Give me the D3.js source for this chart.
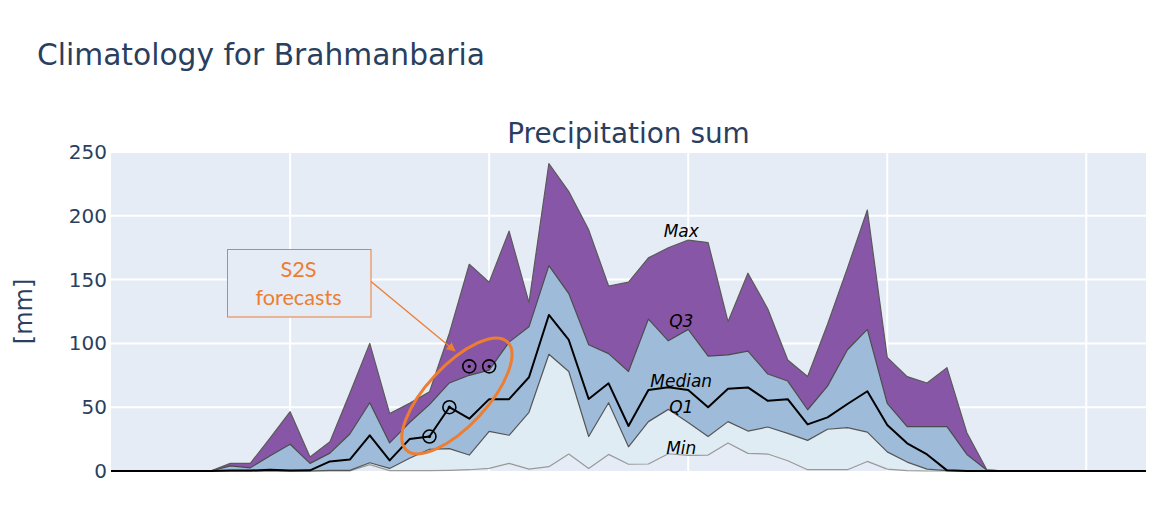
<!DOCTYPE html>
<html>
<head>
<meta charset="utf-8">
<script src="https://cdn.jsdelivr.net/npm/d3@7"></script>
<style>
  body { margin: 0; background: #fff; }
  svg { display: block; font-family: "DejaVu Sans", Verdana, sans-serif; }
</style>
</head>
<body>
<script>
// weekly climatology, weeks 1..53
var weeks = [1,2,3,4,5,6,7,8,9,10,11,12,13,14,15,16,17,18,19,20,21,22,23,24,25,26,27,
             28,29,30,31,32,33,34,35,36,37,38,39,40,41,42,43,44,45,46,47,48,49,50,51,52,53];

var maxVals = [0,0,0,0,0,0, 6,6,26,46.5,11,23,61,100,45,53, 62,108,162,148,188,132,241,219,189,145,
               148,167,175,181,179,117,155,127,87,74, 115,159,204.5,89,74,69,81,30,1, 0,0,0,0,0,0,0,0];
var q3Vals = [0,0,0,0,0,0, 4,2.5,12,21,6,14,29,53.5,22,38, 52,69,75,79,101,113,161,139,99,92,
              78,119,102,111,90,91,94,76,70.5,48, 66.5,95,111,53,34.7,34.7,34.7,13,0.8, 0,0,0,0,0,0,0,0];
var medianVals = [0,0,0,0,0,0, 0.3,0.3,1,0.3,0.5,7.5,9,28,8.3,25, 27,50,41,56.3,56.3,73.5,122.3,102.7,56.4,68.7,
                  35.3,63.5,65.6,63.5,50,64.5,65.5,55,56.3,36.5, 42,52.5,62.5,36,21.7,13,0.5,0,0, 0,0,0,0,0,0,0,0];
var q1Vals = [0,0,0,0,0,0, 0,0,0,0,0,0.5,0.5,6.5,2,10, 17,17.5,12.5,31,28,46,91.5,78,27,53.5,
              19,38.7,48.3,38,27,38.7,31.3,34.5,29.5,24, 32.7,34,30.5,15,7,1.5,0.3,0,0, 0,0,0,0,0,0,0,0];
var minVals = [0,0,0,0,0,0, 0,0,0,0,0,0,0,5,0.3,0.3, 0.3,0.5,1,2,6,1.5,3.4,13.3,2,13,
               5.3,5.5,13.5,12.3,12.5,22,13.8,13.3,8,1, 1,1,7.5,1.5,0.3,0,0,0,0, 0,0,0,0,0,0,0,0];

// S2S forecast markers
var forecastWeeks = [17, 18, 19, 20];
var forecastVals = [27, 50, 82, 82];

// in-chart series labels
var labelNames = ["Max", "Q3", "Median", "Q1", "Min"];
var labelVals = [188, 118, 71, 50, 18.5];
var labelWeek = 29.65;

var yTicks = [0, 50, 100, 150, 200, 250];
var xGrid = [10, 20, 30, 40, 50];

(function(){

var width = 1170, height = 510;
var padL = 111, padR = 1146, padT = 152, padB = 471;

var svg = d3.select("body").append("svg")
    .attr("width", width)
    .attr("height", height);

var x = d3.scaleLinear().domain([1, 53]).range([padL, padR]);
var y = d3.scaleLinear().domain([0, 250]).range([padB, padT]);

// plot background
svg.append("rect")
    .attr("x", padL).attr("y", padT)
    .attr("width", padR - padL).attr("height", padB - padT)
    .attr("fill", "#e5ecf6");

// grid
svg.append("g").selectAll("line")
    .data(yTicks.slice(1))
    .enter().append("line")
    .attr("x1", padL).attr("x2", padR)
    .attr("y1", function(d){ return y(d); })
    .attr("y2", function(d){ return y(d); })
    .attr("stroke", "#fff").attr("stroke-width", 2);

svg.append("g").selectAll("line")
    .data(xGrid)
    .enter().append("line")
    .attr("y1", padT).attr("y2", padB)
    .attr("x1", function(d){ return x(d); })
    .attr("x2", function(d){ return x(d); })
    .attr("stroke", "#fff").attr("stroke-width", 2);

// y axis ticks
var yAxis = d3.axisLeft(y).tickValues(yTicks).tickSize(0).tickPadding(4);
var ya = svg.append("g")
    .attr("transform", "translate(" + padL + ",0)")
    .call(yAxis);
ya.select(".domain").remove();
ya.selectAll("text")
    .attr("fill", "#2a3f5f")
    .style("font-size", "20px")
    .style("font-family", "DejaVu Sans, sans-serif");

// bands
var idx = d3.range(weeks.length);
function band(lo, hi, color){
    var area = d3.area()
        .x(function(i){ return x(weeks[i]); })
        .y0(function(i){ return y(lo[i]); })
        .y1(function(i){ return y(hi[i]); });
    svg.append("path")
        .datum(idx)
        .attr("d", area)
        .attr("fill", color);
}
band(q3Vals, maxVals, "#8856a7");
band(q1Vals, q3Vals, "#9ebcda");
band(minVals, q1Vals, "#e0ecf4");

function line(vals, color, w){
    var l = d3.line()
        .x(function(i){ return x(weeks[i]); })
        .y(function(i){ return y(vals[i]); });
    svg.append("path")
        .datum(idx)
        .attr("d", l)
        .attr("fill", "none")
        .attr("stroke", color)
        .attr("stroke-width", w)
        .attr("stroke-linejoin", "round");
}
line(minVals, "#999999", 1.2);
line(q1Vals, "#555555", 1.2);
line(q3Vals, "#4a4a4a", 1.2);
line(maxVals, "#5a5a5a", 1.2);
line(medianVals, "#000000", 2);

// series labels
svg.append("g").selectAll("text")
    .data(labelNames)
    .enter().append("text")
    .attr("x", x(labelWeek))
    .attr("y", function(d, i){ return y(labelVals[i]); })
    .attr("dy", "0.36em")
    .attr("text-anchor", "middle")
    .style("font-style", "italic")
    .style("font-size", "17px")
    .attr("fill", "#000")
    .text(function(d){ return d; });

// forecast markers (open circle with dot)
var fc = svg.append("g").selectAll("g")
    .data(forecastWeeks)
    .enter().append("g")
    .attr("transform", function(d, i){ return "translate(" + x(d) + "," + y(forecastVals[i]) + ")"; });
fc.append("circle")
    .attr("r", 6.5)
    .attr("fill", "none")
    .attr("stroke", "#000")
    .attr("stroke-width", 1.6);
fc.append("circle")
    .attr("r", 1.6)
    .attr("fill", "#000");

// callout: ellipse, box, arrow
var orange = "#ed7d31";
svg.append("ellipse")
    .attr("cx", 0).attr("cy", 0)
    .attr("rx", 74).attr("ry", 30)
    .attr("transform", "translate(" + x(18.38) + "," + y(58.8) + ") rotate(-47)")
    .attr("fill", "none")
    .attr("stroke", orange)
    .attr("stroke-width", 3);

svg.append("defs").append("marker")
    .attr("id", "arrow")
    .attr("viewBox", "0 0 10 10")
    .attr("refX", 9).attr("refY", 5)
    .attr("markerWidth", 7).attr("markerHeight", 7)
    .attr("orient", "auto")
  .append("path")
    .attr("d", "M0,0 L10,5 L0,10 z")
    .attr("fill", orange);

svg.append("line")
    .attr("x1", 371).attr("y1", 281.5)
    .attr("x2", 455).attr("y2", 351)
    .attr("stroke", orange)
    .attr("stroke-width", 1.3)
    .attr("marker-end", "url(#arrow)");

svg.append("rect")
    .attr("x", 227.5).attr("y", 249.5)
    .attr("width", 143.5).attr("height", 67.5)
    .attr("fill", "#e5ecf6")
    .attr("stroke", orange)
    .attr("stroke-width", 1);

svg.append("text")
    .attr("x", 298.5).attr("y", 276.5)
    .attr("text-anchor", "middle")
    .style("font-family", "Lato, sans-serif")
    .style("font-size", "21.7px")
    .attr("fill", orange)
    .text("S2S");
svg.append("text")
    .attr("x", 298.5).attr("y", 304.5)
    .attr("text-anchor", "middle")
    .style("font-family", "Lato, sans-serif")
    .style("font-size", "21.7px")
    .attr("fill", orange)
    .text("forecasts");

// titles
svg.append("text")
    .attr("x", 37).attr("y", 65)
    .style("font-size", "29.7px")
    .attr("fill", "#2a3f5f")
    .text("Climatology for Brahmanbaria");

svg.append("text")
    .attr("x", (padL + padR) / 2).attr("y", 143)
    .attr("text-anchor", "middle")
    .style("font-size", "27.9px")
    .attr("fill", "#2a3f5f")
    .text("Precipitation sum");

svg.append("text")
    .attr("transform", "translate(32," + ((padT + padB) / 2) + ") rotate(-90)")
    .attr("text-anchor", "middle")
    .style("font-size", "24px")
    .attr("fill", "#2a3f5f")
    .text("[mm]");

})();
</script>
</body>
</html>
